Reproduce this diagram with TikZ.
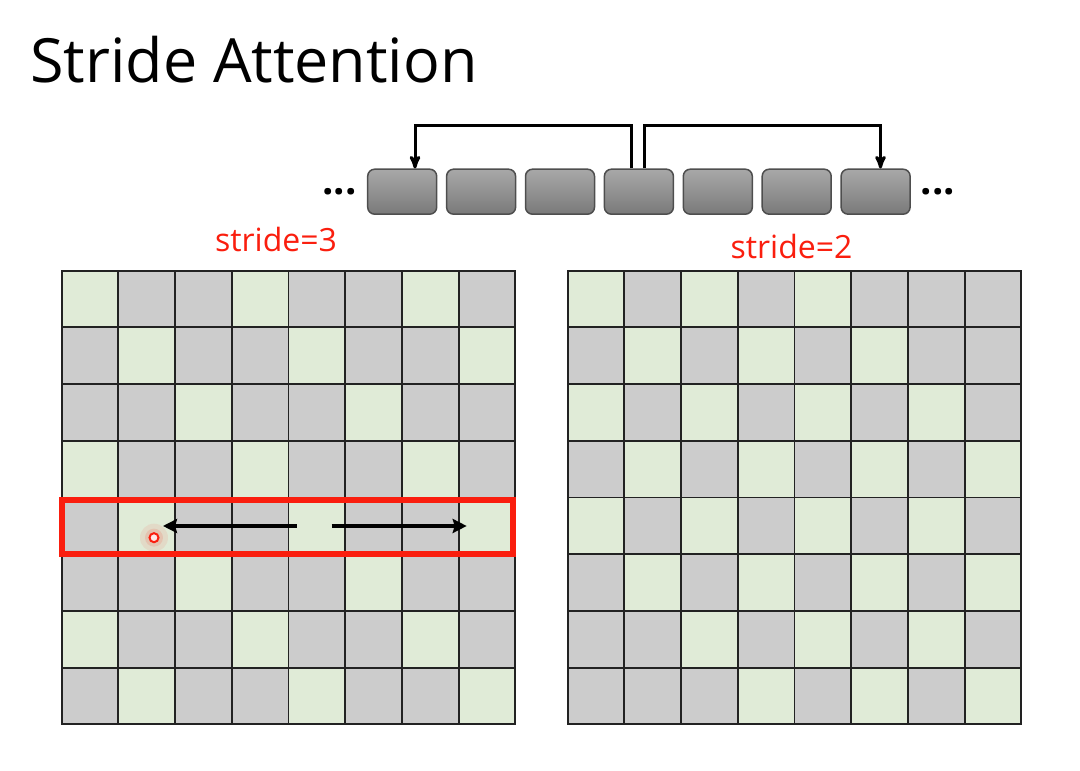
\documentclass[tikz,border=0pt]{standalone}
\usepackage{fontspec}
\setmainfont{Open Sans}
\usepackage{tikz}
\usetikzlibrary{arrows,arrows.meta,positioning}
\definecolor{cellgrey}{RGB}{204,204,204}
\definecolor{cellgreen}{RGB}{224,235,215}
\definecolor{gridc}{RGB}{34,34,34}
\definecolor{boxred}{RGB}{250,30,14}
\definecolor{tokhi}{RGB}{168,168,168}
\definecolor{toklo}{RGB}{122,122,122}
\definecolor{tokdraw}{RGB}{78,78,78}

\begin{document}
\begin{tikzpicture}[x=1pt,y=1pt,>=stealth',node distance=78.9pt,on grid,semithick]
\tikzstyle{token} = [rectangle,rounded corners=7pt,draw=tokdraw,line width=1.5pt,top color=tokhi,bottom color=toklo,minimum width=69pt,minimum height=45pt,inner sep=0pt]
\tikzstyle{dots} = [font=\fontsize{40}{40}\selectfont\bfseries,inner sep=0pt]
\tikzstyle{stridelabel} = [text=boxred,font=\fontsize{32}{36}\selectfont,inner sep=0pt,anchor=base]
\tikzstyle{gridline} = [draw=gridc,line width=1.9pt,line cap=rect]
    \useasboundingbox (0,0) rectangle (1080,771);
    \node[anchor=base west,inner sep=0pt,font=\fontsize{61}{70}\selectfont] (title) at (30,688) {Stride Attention};

    \node[token] (b1) at (402.2,579.3) {};
    \node[token] (b2) [right =of b1] {};
    \node[token] (b3) [right =of b2] {};
    \node[token] (b4) [right =of b3] {};
    \node[token] (b5) [right =of b4] {};
    \node[token] (b6) [right =of b5] {};
    \node[token] (b7) [right =of b6] {};
    \node[dots] (ldots) [left =62.5pt of b1] {...};
    \node[dots] (rdots) [right =62.5pt of b7] {...};

    \tikzset{conn/.style={->,line width=3pt}}
    \draw[conn] ([xshift=-7pt]b4.north) -- ++(0,43.2) -| ([xshift=12.8pt]b1.north);
    \draw[conn] ([xshift=6pt]b4.north) -- ++(0,43.2) -| ([xshift=4.9pt]b7.north);

    \node[stridelabel] (s3) at (276,519.3) {stride=3};
    \node[stridelabel] (s2) at (791.5,512.7) {stride=2};

    \foreach \i in {0,...,7}{
      \foreach \j in {0,...,7}{
        \pgfmathtruncatemacro{\g}{mod(\j-\i+9,3)==0}
        \ifnum\g=1 \def\c{cellgreen}\else\def\c{cellgrey}\fi
        \fill[\c] (61.7+\j*56.7,500.3-\i*56.7) rectangle ++(56.7,-56.7);
        \pgfmathtruncatemacro{\h}{and(mod(\i+\j,2)==0,abs(\i-\j)<=4)}
        \ifnum\h=1 \def\c{cellgreen}\else\def\c{cellgrey}\fi
        \fill[\c] (567.7+\j*56.7,500.3-\i*56.7) rectangle ++(56.7,-56.7);
      }
    }
    \foreach \x in {61.7,567.7}{
      \foreach \k in {0,...,8}{
        \draw[gridline] (\x+\k*56.7,46.7) -- ++(0,453.6);
        \draw[gridline] (\x,46.7+\k*56.7) -- ++(453.6,0);
      }
    }

    \node[draw=boxred,line width=6pt,minimum width=451pt,minimum height=54pt,inner sep=0pt] (row) at (287,244) {};
    \coordinate (lfrom) at (296.7,245);
    \coordinate (lto) at (163,245);
    \coordinate (rfrom) at (331.7,245);
    \coordinate (rto) at (466.7,245);
    \tikzset{rowarrow/.style={-{Stealth[length=14pt,width=14pt,inset=2pt]},line width=4pt}}
    \draw[rowarrow] (lfrom) -- (lto);
    \draw[rowarrow] (rfrom) -- (rto);

    \fill[boxred,opacity=0.08] (154,233.3) circle (14);
    \fill[boxred,opacity=0.12] (154,233.3) circle (9);
    \node[circle,draw=boxred,fill=boxred!10,line width=2pt,minimum size=9pt,inner sep=0pt] (query) at (154,233.3) {};
\end{tikzpicture}
\end{document}
